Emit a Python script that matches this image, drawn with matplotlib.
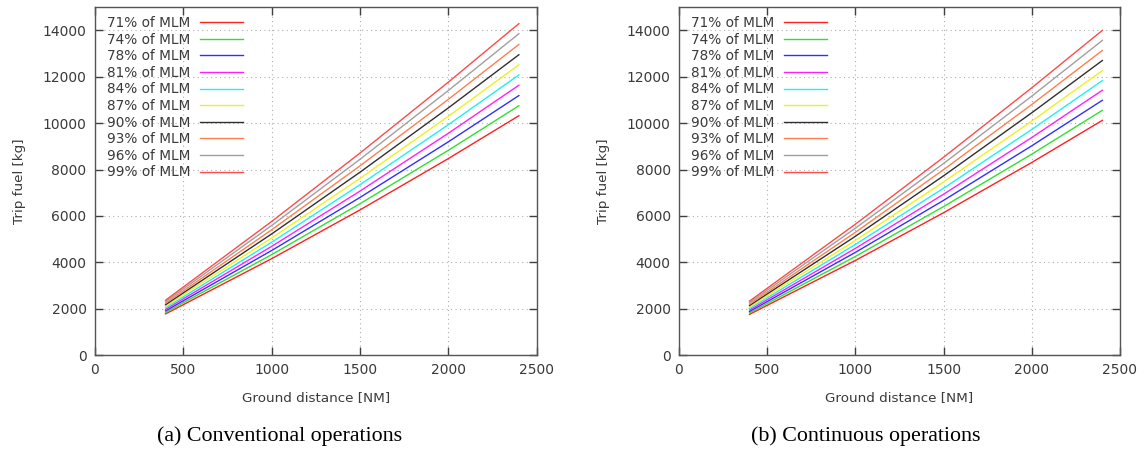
"""Trip fuel vs ground distance for several landing masses (two operation modes)."""
import numpy as np
import matplotlib
matplotlib.use("Agg")
import matplotlib.pyplot as plt  # noqa: E402

# ground distance sample points [NM]
distance = [400, 1000, 1500, 2000, 2400]

labels = ["71% of MLM", "74% of MLM", "78% of MLM", "81% of MLM", "84% of MLM",
          "87% of MLM", "90% of MLM", "93% of MLM", "96% of MLM", "99% of MLM"]

# (a) conventional operations, trip fuel [kg]
fuel_conv = [
    [1780, 4157, 6259, 8471, 10320],
    [1845, 4332, 6525, 8828, 10750],
    [1910, 4509, 6796, 9193, 11190],
    [1975, 4688, 7070, 9562, 11635],
    [2040, 4867, 7344, 9931, 12080],
    [2110, 5047, 7615, 10293, 12515],
    [2175, 5223, 7883, 10654, 12950],
    [2240, 5402, 8157, 11023, 13395],
    [2305, 5585, 8440, 11404, 13855],
    [2370, 5761, 8708, 11765, 14290],
]

# (b) continuous operations, trip fuel [kg]
fuel_cont = [
    [1760, 4083, 6140, 8307, 10120],
    [1820, 4255, 6405, 8665, 10553],
    [1885, 4430, 6673, 9025, 10986],
    [1945, 4602, 6938, 9383, 11419],
    [2010, 4773, 7196, 9729, 11835],
    [2075, 4948, 7463, 10088, 12268],
    [2140, 5123, 7731, 10448, 12701],
    [2200, 5295, 7996, 10806, 13134],
    [2265, 5471, 8263, 11166, 13567],
    [2330, 5646, 8531, 11525, 14000],
]

captions = ["(a) Conventional operations", "(b) Continuous operations"]

# gnuplot-like default line colours
colors = ["#ff2020", "#30e030", "#3030ff", "#ff20ff", "#20f0f0",
          "#f0f020", "#303030", "#ff7f50", "#a0a0a0", "#ff4a4a"]

TXT = "#3a3a3a"
plt.rcParams["font.family"] = "DejaVu Sans"

fig = plt.figure(figsize=(11.44, 4.49), dpi=100)
boxes = [(0.083, 0.209, 0.386, 0.775), (0.5935, 0.209, 0.3855, 0.775)]
caption_x = [0.244, 0.757]

for box, data, cap, cx in zip(boxes, [fuel_conv, fuel_cont], captions, caption_x):
    ax = fig.add_axes(box)
    for ys, c, lab in zip(data, colors, labels):
        ax.plot(distance, ys, color=c, lw=1.0, label=lab)
    ax.set_xlim(0, 2500)
    ax.set_ylim(0, 15000)
    ax.set_xticks(np.arange(0, 2501, 500))
    ax.set_yticks(np.arange(0, 14001, 2000))
    ax.tick_params(direction="in", length=6, width=1.0, colors="#404040",
                   labelcolor=TXT, labelsize=10, top=True, right=True, pad=6)
    ax.grid(True, color="#b0b0b0", lw=0.8, ls=(0, (1, 3)))
    for s in ax.spines.values():
        s.set_color("#555555")
        s.set_linewidth(1.0)
    ax.set_xlabel("Ground distance [NM]", fontsize=9.7, color=TXT, labelpad=10)
    ax.set_ylabel("Trip fuel [kg]", fontsize=9.7, color=TXT, labelpad=12)
    leg = ax.legend(loc="upper left", bbox_to_anchor=(0.007, 1.0), frameon=False,
                    markerfirst=False, fontsize=9.8, handlelength=3.2,
                    labelspacing=0.19, handletextpad=0.7, borderaxespad=0.25)
    for t in leg.get_texts():
        t.set_color(TXT)
    fig.text(cx, 0.029, cap, ha="center", va="center", fontsize=15.8,
             family="Liberation Serif")

fig.savefig("out.png", dpi=100)
